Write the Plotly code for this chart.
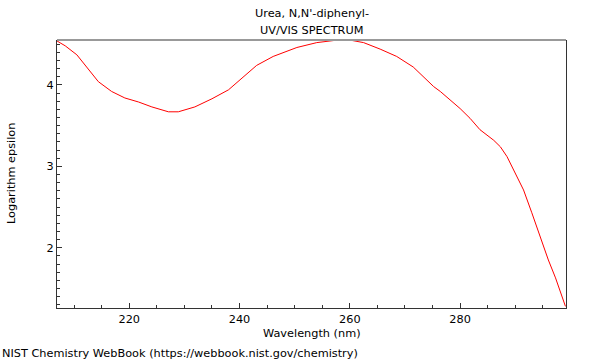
import plotly.graph_objects as go

wavelength_nm = [206.9, 208.4, 210.5, 212.6, 214.4, 216.8, 219.2, 221.7, 224.1, 227.1,
                 228.9, 231.9, 235.0, 238.0, 240.7, 243.1, 246.1, 250.4, 254.0, 257.6,
                 260.1, 262.5, 265.5, 268.5, 271.5, 272.8, 275.2, 276.4, 280.0, 281.8,
                 283.6, 286.1, 287.3, 288.5, 289.7, 290.6, 291.5, 293.0, 294.5, 296.0,
                 297.3, 299.1]
log_epsilon = [4.54, 4.48, 4.37, 4.20, 4.04, 3.92, 3.84, 3.79, 3.73, 3.67,
               3.67, 3.73, 3.83, 3.94, 4.10, 4.24, 4.35, 4.46, 4.52, 4.55,
               4.55, 4.52, 4.44, 4.35, 4.22, 4.14, 3.98, 3.92, 3.71, 3.59,
               3.45, 3.32, 3.24, 3.12, 2.96, 2.84, 2.71, 2.43, 2.14, 1.85,
               1.63, 1.28]

x_range = [206.9, 299.2]
y_range = [1.26, 4.552]

title_lines = ["Urea, N,N'-diphenyl-", "UV/VIS SPECTRUM"]
x_title = "Wavelength (nm)"
y_title = "Logarithm epsilon"
footer = "NIST Chemistry WebBook (https://webbook.nist.gov/chemistry)"

FONT = "DejaVu Sans"
FS = 11.3

fig = go.Figure()
fig.add_trace(go.Scatter(x=wavelength_nm, y=log_epsilon, mode="lines",
                         line=dict(color="#ff0000", width=1), hoverinfo="skip"))

fig.update_layout(
    width=600, height=360,
    margin=dict(l=57, r=34, t=40, b=52),
    paper_bgcolor="white", plot_bgcolor="white",
    showlegend=False,
    font=dict(family=FONT, size=FS, color="#000"),
)

fig.update_xaxes(
    range=x_range, showgrid=False, zeroline=False,
    showline=True, linecolor="#333", linewidth=1, mirror=False,
    ticks="inside", ticklen=5, tickcolor="#333", dtick=20, tick0=0,
    tickfont=dict(family=FONT, size=FS),
    minor=dict(ticks="inside", ticklen=3, dtick=5, tick0=0, tickcolor="#333", showgrid=False),
)
fig.update_yaxes(
    range=y_range, showgrid=False, zeroline=False,
    showline=True, linecolor="#333", linewidth=1, mirror=True,
    ticks="inside", ticklen=5, tickcolor="#333", dtick=1, tick0=0,
    tickfont=dict(family=FONT, size=FS),
    minor=dict(ticks="inside", ticklen=3, dtick=0.1, tick0=0, tickcolor="#333", showgrid=False),
)

# grey top border
fig.add_shape(type="line", xref="paper", yref="paper", x0=0, x1=1, y0=1, y1=1,
              line=dict(color="#999", width=2))

# titles
fig.add_annotation(text=title_lines[0], xref="paper", yref="paper", x=0.5, y=1,
                   yshift=27, showarrow=False, xanchor="center", yanchor="middle",
                   font=dict(family=FONT, size=FS))
fig.add_annotation(text=title_lines[1], xref="paper", yref="paper", x=0.5, y=1,
                   yshift=10, showarrow=False, xanchor="center", yanchor="middle",
                   font=dict(family=FONT, size=FS))
fig.add_annotation(text=x_title, xref="paper", yref="paper", x=0.5, y=0,
                   yshift=-25, showarrow=False, xanchor="center", yanchor="middle",
                   font=dict(family=FONT, size=FS))
fig.add_annotation(text=y_title, xref="paper", yref="paper", x=0, y=0.5,
                   xshift=-46, showarrow=False, xanchor="center", yanchor="middle",
                   textangle=-90, font=dict(family=FONT, size=FS))
fig.add_annotation(text=footer, xref="paper", yref="paper", x=-57/509, y=0,
                   yshift=-45, showarrow=False, xanchor="left", yanchor="middle",
                   font=dict(family=FONT, size=FS))

fig.write_html("out.html", config={"displayModeBar": False},
               post_script="document.body.style.margin='0';")
